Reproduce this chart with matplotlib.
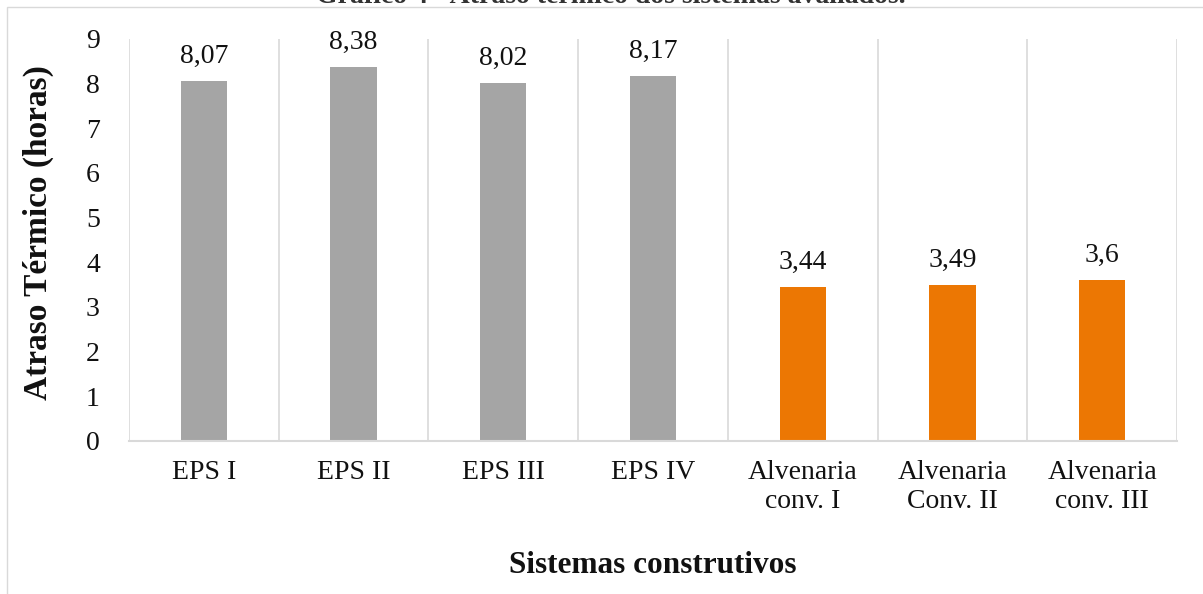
import matplotlib
matplotlib.use("Agg")
import matplotlib.pyplot as plt
from matplotlib.patches import Rectangle
import numpy as np

categories = ["EPS I", "EPS II", "EPS III", "EPS IV",
              "Alvenaria\nconv. I", "Alvenaria\nConv. II", "Alvenaria\nconv. III"]
values = [8.07, 8.38, 8.02, 8.17, 3.44, 3.49, 3.6]
value_labels = ["8,07", "8,38", "8,02", "8,17", "3,44", "3,49", "3,6"]
groups = ["EPS", "EPS", "EPS", "EPS", "Alv", "Alv", "Alv"]
yticks = [0, 1, 2, 3, 4, 5, 6, 7, 8, 9]

colors = {"EPS": "#A5A5A5", "Alv": "#EC7703"}
grid_col = "#D9D9D9"

plt.rcParams['font.family'] = ['Liberation Serif', 'DejaVu Serif']

W, H = 1203, 594
fig = plt.figure(figsize=(W / 100, H / 100), dpi=100)

# outer chart border
fig.patches.append(Rectangle((7 / W, -0.05), 1.1, 1 - 7 / H + 0.05,
                             transform=fig.transFigure, fill=False,
                             edgecolor=grid_col, linewidth=1.0))

# cut-off caption at the top
fig.text(611 / W, 1 - 3 / H, "Gráfico 4 - Atraso térmico dos sistemas avaliados.",
         ha="center", va="baseline", fontsize=20, fontweight="bold", color="#333333")

ax = fig.add_axes([129 / W, 1 - 441 / H, (1177 - 129) / W, (441 - 39) / H])

x = np.arange(len(categories))
bars = ax.bar(x, values, width=0.31, color=[colors[g] for g in groups], zorder=3)

for xi, v, lab in zip(x, values, value_labels):
    ax.annotate(lab, (xi, v), xytext=(0, 13), textcoords="offset points",
                ha="center", va="baseline", fontsize=20, color="#111111")

ax.set_xlim(-0.5, len(categories) - 0.5)
ax.set_ylim(0, 9)
for b in np.arange(len(categories) + 1) - 0.5:
    ax.axvline(b, color=grid_col, linewidth=1.2, zorder=1)

ax.set_xticks(x)
ax.set_xticklabels(categories, fontsize=20, color="#111111", linespacing=1.2)
ax.set_yticks(yticks)
ax.set_yticklabels([str(t) for t in yticks], fontsize=20, color="#111111")
ax.tick_params(axis="both", length=0)
ax.tick_params(axis="x", pad=14)
ax.tick_params(axis="y", pad=21)

for s in ["top", "right", "left"]:
    ax.spines[s].set_visible(False)
ax.spines["bottom"].set_color(grid_col)
ax.spines["bottom"].set_linewidth(1.5)
ax.spines["bottom"].set_zorder(4)

fig.text(653 / W, 1 - 573 / H, "Sistemas construtivos", ha="center", va="baseline",
         fontsize=22.5, fontweight="bold", color="#111111")
fig.text(38 / W, 1 - 233 / H, "Atraso Térmico (horas)", ha="center", va="center",
         rotation=90, fontsize=24, fontweight="bold", color="#111111")

fig.savefig("out.png", dpi=100)
